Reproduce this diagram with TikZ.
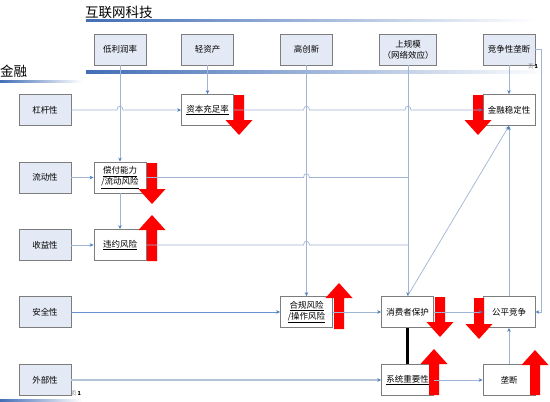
\documentclass[tikz,border=0pt]{standalone}
\usepackage{fontspec}
\setmainfont{Noto Sans CJK SC}
\usetikzlibrary{arrows.meta,calc}
\definecolor{boxfill}{RGB}{228,234,245}
\definecolor{boxdraw}{RGB}{125,125,125}
\definecolor{conncol}{RGB}{160,181,214}
\definecolor{tipcol}{RGB}{79,129,189}
\definecolor{hdrblue}{RGB}{66,110,182}
\definecolor{safcol}{RGB}{105,145,210}
\definecolor{extcol}{RGB}{178,196,212}
\definecolor{arrred}{RGB}{255,0,0}
\newcommand\RedDn[3]{\fill[arrred] (#1-5,#2) -- (#1+5,#2) -- (#1+5,#3-15) -- (#1+13.5,#3-15) -- (#1,#3) -- (#1-13.5,#3-15) -- (#1-5,#3-15) -- cycle;}
\newcommand\RedUp[3]{\fill[arrred] (#1-5,#3) -- (#1+5,#3) -- (#1+5,#2+15) -- (#1+13.5,#2+15) -- (#1,#2) -- (#1-13.5,#2+15) -- (#1-5,#2+15) -- cycle;}
\begin{document}
\begin{tikzpicture}[x=1pt,y=-1pt,
  base/.style={draw=boxdraw,line width=0.8pt,minimum width=52pt,minimum height=31pt,inner sep=1pt,align=center,font=\fontsize{8.5}{11}\selectfont},
  bluebox/.style={base,fill=boxfill},
  whitebox/.style={base,fill=white},
  conn/.style={draw=conncol,line width=0.7pt},
  tip/.style={-{Stealth[length=4pt,width=3.5pt,color=tipcol]}},
  title/.style={anchor=west,inner sep=0,font=\fontsize{13.5}{15}\selectfont},
  pagemark/.style={inner sep=0,font=\fontsize{5.5}{6}\selectfont}
]
\useasboundingbox[fill=white] (0,0) rectangle (550,402);

% header lines and titles
\shade[left color=hdrblue,right color=white] (86,19) rectangle (535,21.5);
\shade[left color=hdrblue,right color=white] (86,70.5) rectangle (550,73);
\shade[left color=hdrblue,right color=white] (0,80) rectangle (82,82.5);
\shade[left color=hdrblue,right color=white] (0,399) rectangle (82,401.5);
\node[title] (ttech) at (85,12) {互联网科技};
\node[title] (tfin) at (0,71.5) {金融};

% top row
\node[bluebox] (lowp) at (120,49.5) {低利润率};
\node[bluebox] (light) at (207.5,49.5) {轻资产};
\node[bluebox] (innov) at (306.5,49.5) {高创新};
\node[bluebox,minimum width=57pt] (scale) at (408,49.5) {上规模\\（网络效应）};
\node[bluebox] (mono) at (509,49.5) {竞争性垄断};

% left column
\node[bluebox] (lev) at (45,110) {杠杆性};
\node[bluebox] (liq) at (45,177.5) {流动性};
\node[bluebox] (inc) at (45,245) {收益性};
\node[bluebox] (saf) at (45,312) {安全性};
\node[bluebox] (ext) at (45,380) {外部性};

% middle boxes
\node[whitebox] (cap) at (207.5,110) {\underline{资本充足率}};
\node[whitebox] (solv) at (120,177.5) {\underline{偿付能力}\\\underline{/流动风险}};
\node[whitebox] (def) at (120,245) {\underline{违约风险}};
\node[whitebox] (comp) at (306.5,312) {\underline{合规风险}\\\underline{/操作风险}};
\node[whitebox] (cons) at (407.5,312) {消费者保护};
\node[whitebox] (sys) at (407.5,380) {\underline{系统重要性}};
\node[whitebox] (fair) at (509,312) {公平竞争};
\node[whitebox] (monop) at (509,380) {垄断};
\node[whitebox] (fin) at (509,110) {金融稳定性};

% red block arrows
\RedDn{239}{95}{135}
\RedDn{478}{95}{135}
\RedDn{152}{163}{204}
\RedUp{152}{215}{261}
\RedUp{339}{283}{329}
\RedDn{440}{297}{337}
\RedDn{479}{298}{339}
\RedUp{434}{349}{395}
\RedUp{535}{350}{395}

% connectors
\draw[conn,tip] (lev.east) -- (117,110) .. controls (117,105) and (123,105) .. (123,110) -- (cap.west);
\draw[conn,tip] (cap.east) -- (303.5,110) .. controls (303.5,105) and (309.5,105) .. (309.5,110) -- (405,110) .. controls (405,105) and (411,105) .. (411,110) -- (fin.west);
\draw[conn,tip] (lowp.south) -- (solv.north);
\draw[conn,tip] (light.south) -- (cap.north);
\draw[conn,tip] (mono.south) -- (fin.north);
\draw[conn,tip] (mono.east) -- ++(6,0) |- (fair.east);
\draw[conn,tip] (liq.east) -- (solv.west);
\draw[conn] (solv.east) -- (303.5,177.5) .. controls (303.5,172.5) and (309.5,172.5) .. (309.5,177.5) -- (scale.south |- solv.east);
\draw[conn,tip] (solv.south) -- (def.north);
\draw[conn,tip] (inc.east) -- (def.west);
\draw[conn] (def.east) -- (303.5,245) .. controls (303.5,240) and (309.5,240) .. (309.5,245) -- (scale.south |- def.east);
\draw[conn,tip] (innov.south) -- (comp.north);
\draw[conn,tip] (scale.south) -- (scale.south |- cons.north);
\draw[conn,tip] (cons.north) -- (fin.south);
\draw[conn,tip] (fair.north) -- (fin.south);
\draw[conn,draw=safcol,tip] (saf.east) -- (comp.west);
\draw[conn,tip] (comp.east) -- (cons.west);
\draw[conn,tip] (cons.east) -- (fair.west);
\draw[black,line width=2.6pt] (cons.south) -- (sys.north);
\draw[conn,draw=extcol,line width=1.3pt,tip] (ext.east) -- (sys.west);
\draw[conn,tip] (sys.east) -- (monop.west);
\draw[conn,tip] (monop.north) -- (fair.south);

% page marks
\node[pagemark] (pg1) at (533,66.5) {{\color{gray}页}\,\textbf{1}};
\node[pagemark] (pg2) at (76,393.5) {{\color{gray}页}\,\textbf{1}};
\end{tikzpicture}
\end{document}
